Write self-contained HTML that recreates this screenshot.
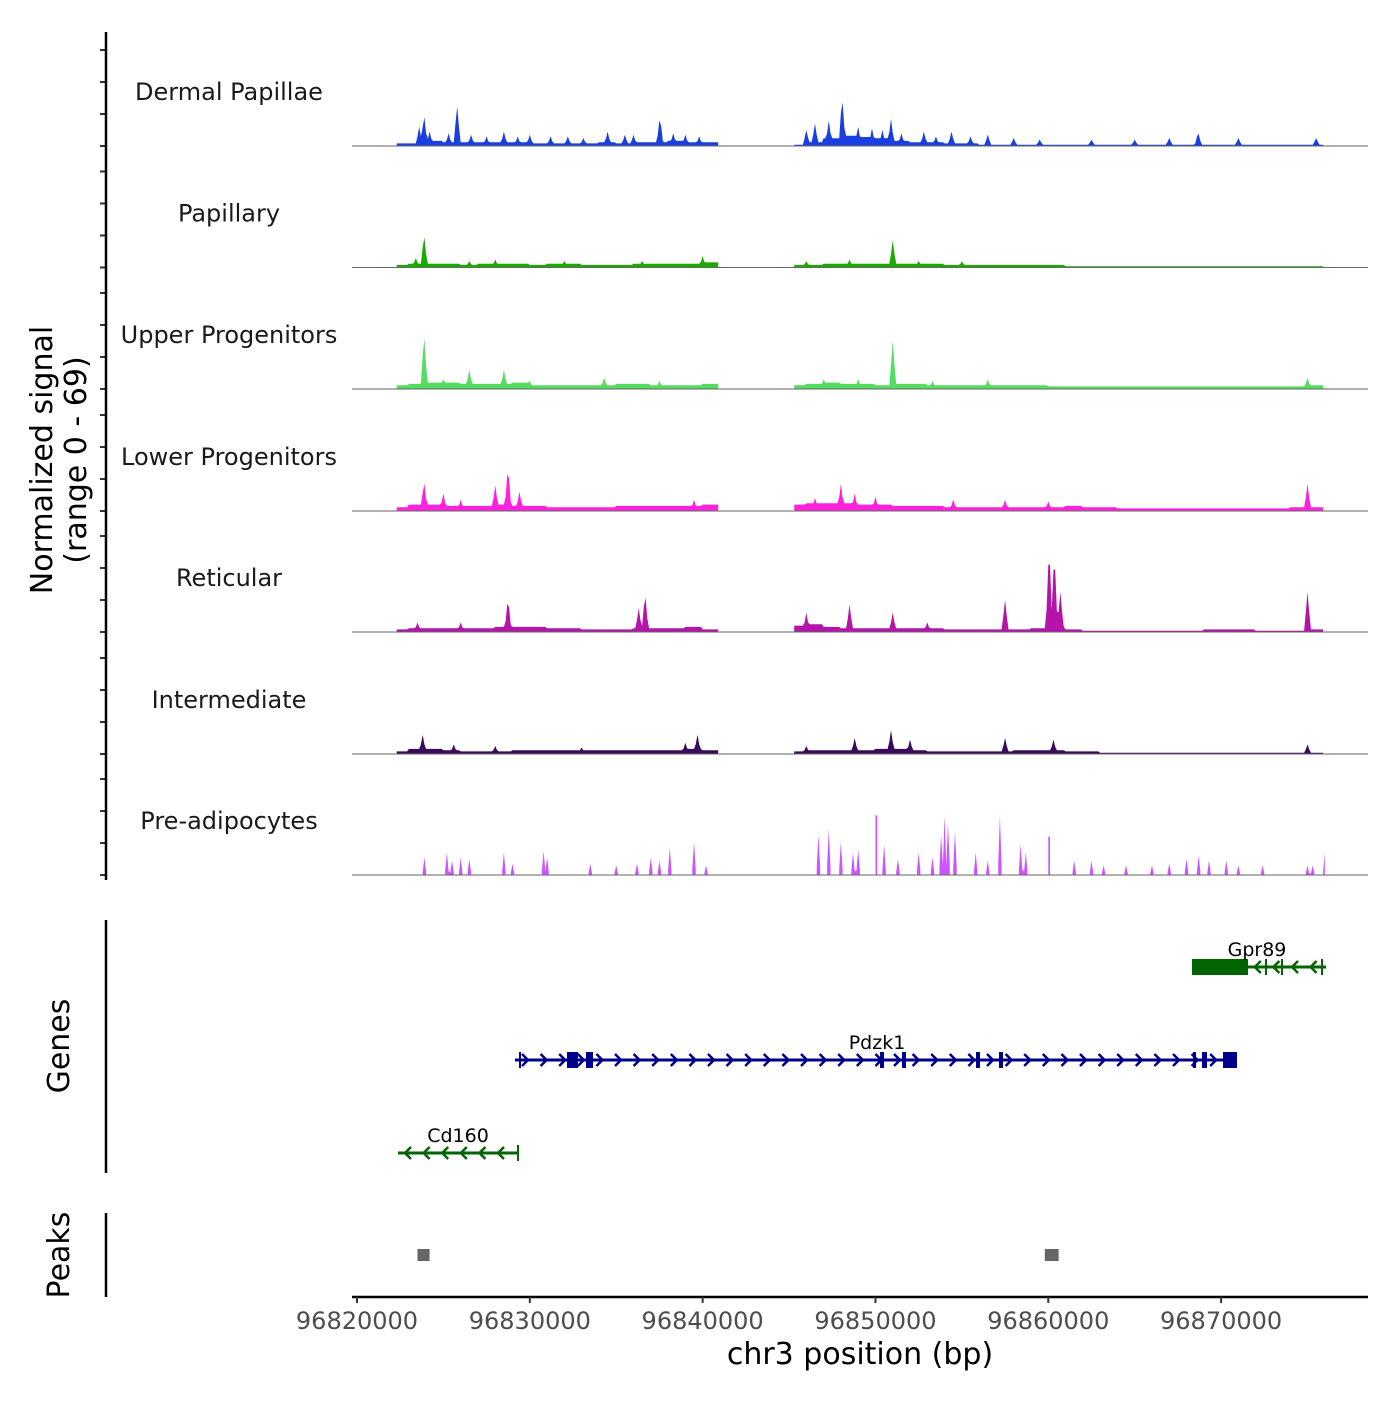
<!DOCTYPE html>
<html><head><meta charset="utf-8"><style>
body{margin:0;background:#fff}
svg text{font-family:"DejaVu Sans","Liberation Sans",sans-serif}
</style></head><body>
<svg id="chart" width="1400" height="1400" viewBox="0 0 1400 1400" xmlns="http://www.w3.org/2000/svg">
<g id="tracks"></g>
<g id="genes"></g>
<g id="axes"></g>
</svg>
<script>
const trackNames=["Dermal Papillae","Papillary","Upper Progenitors","Lower Progenitors","Reticular","Intermediate","Pre-adipocytes"];
const trackColors=["#1a3fe0","#1aaa00","#55dd60","#ff22dd","#b414aa","#3a0a5a","#cc55ff"];
const base0=[2,2,4,3,3,3,3,3,2,2,2,2,3,2,3,3,4,3,3,0,0,0,0,1,3,6,8,7,6,4,3,3,2,2,1,1,1,1,1,1,1,1,1,1,1,1,1,1,1,1,1,1,1,1,0];
const base1=[2,3,3,3,2,3,3,3,2,3,3,2,2,2,3,3,3,3,4,0,0,0,0,2,2,3,3,3,3,3,3,3,2,2,2,2,2,2,2,1,1,1,1,1,1,1,1,1,1,1,1,1,1,1,0];
const base2=[3,4,5,5,4,4,4,5,3,3,3,3,3,4,4,3,3,3,4,0,0,0,0,3,4,5,4,4,3,4,4,3,3,3,3,3,3,3,2,2,2,2,2,2,2,2,2,2,2,2,2,2,2,3,0];
const base3=[3,5,5,4,4,4,5,4,4,3,3,3,3,4,4,4,4,4,5,0,0,0,0,5,6,6,6,5,5,4,4,4,3,3,3,3,3,3,3,4,3,3,2,2,2,2,2,2,2,2,2,2,3,3,0];
const base4=[2,3,3,3,3,3,4,4,4,3,3,2,2,2,3,3,3,4,2,0,0,0,0,5,6,4,3,3,3,3,3,3,2,2,2,2,2,3,4,2,1,1,1,1,1,1,1,2,2,2,1,1,1,2,0];
const base5=[2,4,4,3,2,2,2,3,3,3,3,3,3,3,3,3,3,4,3,0,0,0,0,2,3,3,3,3,4,4,3,2,2,2,2,2,3,3,3,2,2,1,1,1,1,1,1,1,1,1,1,1,1,1,0];
const base6=[0,0,0,0,0,0,0,0,0,0,0,0,0,0,0,0,0,0,0,0,0,0,0,0,0,0,0,0,0,0,0,0,0,0,0,0,0,0,0,0,0,0,0,0,0,0,0,0,0,0,0,0,0,0,0];
const peaks0=[[96823880,20],[96823600,12],[96824200,9],[96825790,26],[96825300,8],[96826600,7],[96827500,6],[96828500,9],[96829300,6],[96830000,7],[96831200,6],[96832200,6],[96833100,5],[96834500,9],[96835500,7],[96836000,7],[96837530,19],[96838300,8],[96839000,7],[96839800,6],[96846000,10],[96846500,14],[96847300,16],[96848070,32],[96849000,12],[96849800,11],[96850400,10],[96850900,17],[96851500,8],[96852800,9],[96853500,6],[96854400,9],[96855500,6],[96856500,7],[96858000,5],[96859500,4],[96862500,4],[96865000,4],[96867000,5],[96868670,9],[96871000,5],[96875500,5]];
const peaks1=[[96823880,21],[96823400,6],[96828000,5],[96840000,7],[96851000,17],[96848500,5],[96846000,4],[96826500,4],[96832000,4],[96836500,4],[96852500,4],[96855000,4]];
const peaks2=[[96823880,35],[96826500,12],[96828500,12],[96834300,7],[96849000,6],[96851000,30],[96853300,5],[96856500,6],[96875000,7],[96825000,6],[96830000,5],[96837500,5],[96847000,6]];
const peaks3=[[96823880,19],[96825000,11],[96828000,16],[96828740,29],[96829400,12],[96848000,17],[96848800,11],[96850000,9],[96854500,7],[96857500,7],[96860000,6],[96875000,17],[96826000,7],[96839500,7],[96846500,8]];
const peaks4=[[96828740,22],[96836670,25],[96836300,15],[96846000,12],[96848500,17],[96851000,12],[96857500,20],[96860050,56],[96860350,52],[96860700,25],[96875000,25],[96823500,6],[96826000,6],[96853000,6]];
const peaks5=[[96823800,12],[96825600,6],[96839700,12],[96839000,7],[96848800,10],[96850900,15],[96852000,9],[96857500,10],[96860300,9],[96875000,6],[96828000,5],[96833000,4],[96846000,5]];
const peaks6=[[96823900,11],[96825200,14],[96825500,9],[96826000,11],[96826500,10],[96828500,14],[96829000,7],[96830800,15],[96831000,11],[96833500,7],[96835000,6],[96836200,7],[96837000,11],[96837500,9],[96838100,17],[96839500,21],[96840200,6],[96846700,25],[96847300,29],[96848000,21],[96848700,14],[96849000,16],[96850050,64],[96850500,19],[96851300,10],[96852500,14],[96853300,11],[96853800,25],[96854000,37],[96854200,32],[96854600,27],[96855800,14],[96856500,9],[96857200,37],[96858400,19],[96858700,14],[96860050,41],[96861500,9],[96862500,9],[96863200,6],[96864500,6],[96866000,6],[96867000,7],[96868000,10],[96868700,12],[96869300,9],[96870300,9],[96871000,6],[96872400,6],[96875000,6],[96875300,6],[96876000,14]];
const baselines=[base0,base1,base2,base3,base4,base5,base6];
const peakSets=[peaks0,peaks1,peaks2,peaks3,peaks4,peaks5,peaks6];
const xTicks=[96820000,96830000,96840000,96850000,96860000,96870000];
const yTicks=[0,20,40,60];
const peakRegions=[[96823500,96824200],[96859800,96860600]];

const NS="http://www.w3.org/2000/svg";
const X0=352,X1=1368,BP0=96819711,BP1=96878500;
function xs(bp){return X0+(bp-BP0)/(BP1-BP0)*(X1-X0);}
const PXU=1.6;
const trackBase=[146,267.5,389,511,632,754,875];
function el(tag,attrs,parent){const e=document.createElementNS(NS,tag);for(const k in attrs)e.setAttribute(k,attrs[k]);parent.appendChild(e);return e;}
const gT=document.getElementById('tracks'),gG=document.getElementById('genes'),gA=document.getElementById('axes');

trackNames.forEach((name,t)=>{
  const by=trackBase[t];
  const g=el('g',{},gT);
  
  
  const step=100,S=96822300,E=96876000;
  const vals=[];
  for(let p=S;p<=E;p+=step){
    const bi=Math.floor((p-96822000)/1000);
    let v=(baselines[t][bi]||0)*0.8;
    if(p>96840900&&p<96845300)v=0;
    for(const [pp,h] of peakSets[t]){
      const hw=t===6?120:200;
      const d=Math.abs(p-pp);
      if(d<hw){v=Math.max(v,h*(1-d/hw));}
    }
    vals.push([p,v]);
  }
  let seg=[];
  const flush=()=>{
    if(seg.length>1){
      let d='M'+xs(seg[0][0]).toFixed(1)+','+by;
      seg.forEach(([p,v])=>{d+='L'+xs(p).toFixed(1)+','+(by-v*PXU).toFixed(1);});
      d+='L'+xs(seg[seg.length-1][0]).toFixed(1)+','+by+'Z';
      const a=el('path',{d:d,fill:trackColors[t]},g);
      
      
    }
    seg=[];
  };
  vals.forEach(s=>{if(s[1]>0.05)seg.push(s);else flush();});
  flush();
  const bl=el('line',{x1:X0,x2:X1,y1:by,y2:by,stroke:'#666','stroke-width':1},g);
  
  
  const lb=el('text',{x:229,y:by-54+8,'font-size':24,'text-anchor':'middle',fill:'#1a1a1a'},g);
  lb.textContent=name;
  
  
  yTicks.forEach(v=>{
    const tk=el('line',{x1:100,x2:106,y1:by-v*PXU,y2:by-v*PXU,stroke:'#333','stroke-width':2},gA);
    
    
  });
});

function gene(name,strand,color,y,s,e,exons,label){
  const g=el('g',{},gG);
  
  
  el('line',{x1:s,x2:e,y1:y,y2:y,stroke:color,'stroke-width':3},g);
  for(let x=s+10;x<e-4;x+=18.6){
    const d=strand>0?`M${x-3},${y-6}L${x+3},${y}L${x-3},${y+6}`:`M${x+3},${y-6}L${x-3},${y}L${x+3},${y+6}`;
    el('path',{d:d,stroke:color,'stroke-width':2.5,fill:'none'},g);
  }
  exons.forEach(([a,w])=>el('rect',{x:a,y:y-8,width:w,height:16,fill:color},g));
  const t=el('text',{x:label,y:y-11,'font-size':19,'text-anchor':'middle',fill:'#000'},g);
  t.textContent=name;
}
gene('Gpr89',-1,'#006400',967,1192,1326,[[1192,56],[1265,2],[1281,2],[1321,2]],1257);
gene('Pdzk1',1,'#00008b',1060,515,1237,[[519,2],[567,11],[586,7],[880,4],[902,4],[976,4],[999,4],[1193,3],[1202,5],[1223,14]],877);
gene('Cd160',-1,'#006400',1153,398,519,[[517,2]],458);

peakRegions.forEach(([a,b])=>{
  const r=el('rect',{x:xs(a),y:1249,width:xs(b)-xs(a),height:12,fill:'#666'},gG);
  
  
});

[[32,880],[920,1173],[1213,1297]].forEach(([a,b])=>{
  const l=el('line',{x1:106,x2:106,y1:a,y2:b,stroke:'#000','stroke-width':2.5},gA);
  
  
});
const xl=el('line',{x1:X0,x2:X1,y1:1297,y2:1297,stroke:'#000','stroke-width':2.5},gA);


xTicks.forEach(v=>{
  const x=xs(v);
  const tk=el('line',{x1:x,x2:x,y1:1297,y2:1303,stroke:'#333','stroke-width':2},gA);
  
  
  const t=el('text',{x:x,y:1329,'font-size':24,'text-anchor':'middle',fill:'#4d4d4d'},gA);
  t.textContent=v;
  
  
});
const xt=el('text',{x:860,y:1364,'font-size':30,'text-anchor':'middle',fill:'#000'},gA);
xt.textContent='chr3 position (bp)';


function rot(txt,x,y,name){
  const t=el('text',{x:0,y:0,'font-size':30,'text-anchor':'middle',fill:'#000',transform:`translate(${x},${y}) rotate(-90)`},gA);
  t.textContent=txt;
  
  
}
rot('Normalized signal',52,460,'y-axis-title');
rot('(range 0 - 69)',86,460,'y-axis-range');
rot('Genes',69,1046,'genes-axis-title');
rot('Peaks',69,1255,'peaks-axis-title');
</script>
</body></html>
